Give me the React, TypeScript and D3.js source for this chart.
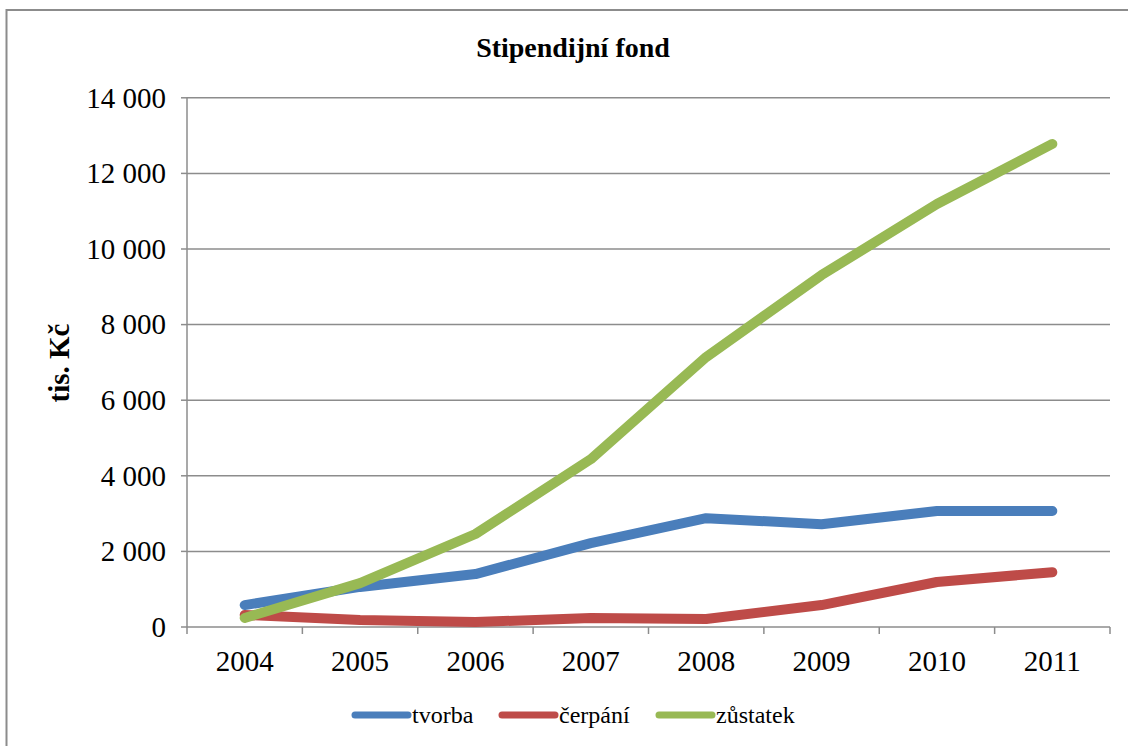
import React from "react";
import * as d3 from "d3";

const years = ["2004", "2005", "2006", "2007", "2008", "2009", "2010", "2011"];
const tvorba = [580, 1060, 1400, 2220, 2880, 2720, 3070, 3070];
const cerpani = [320, 185, 130, 240, 210, 580, 1190, 1450];
const zustatek = [240, 1160, 2460, 4440, 7140, 9310, 11190, 12780];
const yTicks = [0, 2000, 4000, 6000, 8000, 10000, 12000, 14000];

const seriesList = [
  { name: "tvorba", values: tvorba, color: "#4A7EBB" },
  { name: "čerpání", values: cerpani, color: "#BE4B48" },
  { name: "zůstatek", values: zustatek, color: "#98B954" },
];

const W = 1128, H = 746;
const left = 187, right = 1110, top = 97.8, bottom = 627;
const font = "'Liberation Serif', 'Times New Roman', serif";

export default function App() {
  const x = d3.scaleBand().domain(years).range([left, right]);
  const y = d3.scaleLinear().domain([0, 14000]).range([bottom, top]);
  const fmt = (v: number) => d3.format(",")(v).replace(/,/g, " ");
  const line = (vals: number[]) =>
    d3.line<number>().x((_, i) => (x(years[i]) as number) + x.bandwidth() / 2).y((d) => y(d))(vals) as string;
  const legendX = [353, 500, 657];

  return (
    <svg width={W} height={H} style={{ position: "absolute", left: 0, top: 0, background: "#fff" }} fontFamily={font}>
      <rect x={0} y={0} width={W} height={H} fill="#fff" />
      <rect x={6.5} y={10} width={W + 20} height={H + 20} fill="none" stroke="#8c8c8c" strokeWidth={2} />
      <text x={573} y={57} textAnchor="middle" fontSize={28} fontWeight="bold">Stipendijní fond</text>
      {yTicks.map((t) => (
        <g key={t}>
          {t > 0 && <line x1={left} x2={right} y1={y(t)} y2={y(t)} stroke="#8c8c8c" strokeWidth={1.5} />}
          <line x1={left - 6} x2={left} y1={y(t)} y2={y(t)} stroke="#8c8c8c" strokeWidth={1.5} />
          <text x={166} y={y(t)} dy="0.34em" textAnchor="end" fontSize={29}>{fmt(t)}</text>
        </g>
      ))}
      <line x1={left} x2={left} y1={top} y2={bottom} stroke="#8c8c8c" strokeWidth={1.5} />
      <line x1={left} x2={right} y1={bottom} y2={bottom} stroke="#8c8c8c" strokeWidth={1.5} />
      {[...years.map((yr) => x(yr) as number), right].map((p, i) => (
        <line key={i} x1={p} x2={p} y1={bottom} y2={bottom + 7} stroke="#8c8c8c" strokeWidth={1.5} />
      ))}
      {years.map((yr) => (
        <text key={yr} x={(x(yr) as number) + x.bandwidth() / 2} y={671} textAnchor="middle" fontSize={29}>{yr}</text>
      ))}
      <text transform="translate(69,363) rotate(-90)" textAnchor="middle" fontSize={29} fontWeight="bold">tis. Kč</text>
      {seriesList.map((s) => (
        <path key={s.name} d={line(s.values)} fill="none" stroke={s.color} strokeWidth={10} strokeLinecap="round" strokeLinejoin="round" />
      ))}
      {seriesList.map((s, i) => (
        <g key={s.name}>
          <line x1={legendX[i] + 2} x2={legendX[i] + 55} y1={715} y2={715} stroke={s.color} strokeWidth={7} strokeLinecap="round" />
          <text x={legendX[i] + 59} y={723} fontSize={24}>{s.name}</text>
        </g>
      ))}
    </svg>
  );
}
